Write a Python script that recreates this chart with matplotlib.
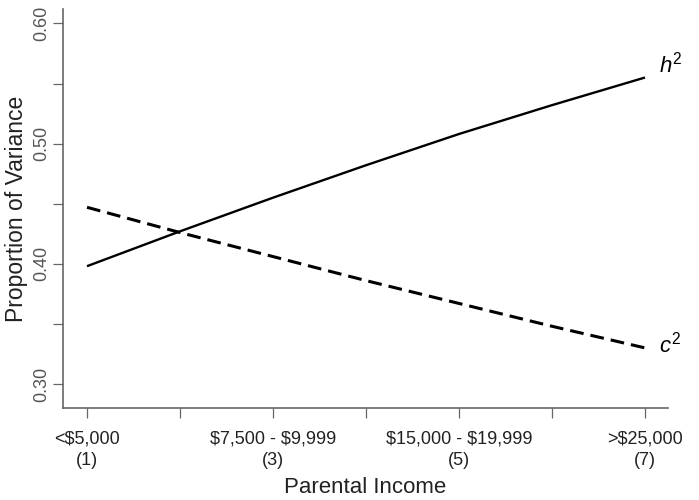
import matplotlib
matplotlib.use("Agg")
from matplotlib import pyplot as plt

# data
income = [1, 2, 3, 4, 5, 6, 7]
h2 = [0.398, 0.427, 0.455, 0.482, 0.508, 0.532, 0.555]
c2 = [0.447, 0.426, 0.406, 0.386, 0.367, 0.348, 0.330]
xtick_labels = [r"<\$5,000" + "\n(1)", "", r"\$7,500 - \$9,999" + "\n(3)", "",
                r"\$15,000 - \$19,999" + "\n(5)", "", r">\$25,000" + "\n(7)"]
yticks = [0.30, 0.35, 0.40, 0.45, 0.50, 0.55, 0.60]
ytick_labels = ["0.30", "", "0.40", "", "0.50", "", "0.60"]

plt.rcParams['font.family'] = ['Liberation Sans', 'DejaVu Sans']
plt.rcParams['mathtext.fontset'] = 'custom'
plt.rcParams['mathtext.it'] = 'Liberation Sans:italic'
plt.rcParams['mathtext.rm'] = 'Liberation Sans'

fig = plt.figure(figsize=(6.99, 5.0), dpi=100)
ax = fig.add_axes([63 / 699, 1 - 408 / 500, (668 - 63) / 699, (408 - 9) / 500])

ax.plot(income, h2, color='black', lw=1.7, solid_capstyle='butt')
ax.plot(income, c2, color='black', lw=2.2, dashes=(4.5, 2.3))

ax.text(7.15, h2[-1] + 0.011, r'$h^2$', fontsize=16, ha='left', va='center', clip_on=False)
ax.text(7.15, c2[-1] + 0.003, r'$c^2$', fontsize=16, ha='left', va='center', clip_on=False)

ax.set_xlim(0.742, 7.247)
ax.set_ylim(0.280, 0.612)

ax.set_xticks(income)
ax.set_xticklabels(xtick_labels, fontsize=13, color='#222222', linespacing=1.35)
ax.set_yticks(yticks)
ax.set_yticklabels(ytick_labels, fontsize=13, color='#555555', rotation=90, va='center')

for s in ['top', 'right']:
    ax.spines[s].set_visible(False)
for s in ['left', 'bottom']:
    ax.spines[s].set_color('#666666')
    ax.spines[s].set_linewidth(1.2)
ax.tick_params(direction='out', length=7, width=0.9, color='#666666')
ax.tick_params(axis='x', pad=9)
ax.tick_params(axis='y', pad=2)

ax.set_xlabel('Parental Income', fontsize=16, color='#222222', labelpad=6)
ax.set_ylabel('Proportion of Variance', fontsize=16.5, color='#222222', labelpad=4)

fig.savefig('out.png', dpi=100)
